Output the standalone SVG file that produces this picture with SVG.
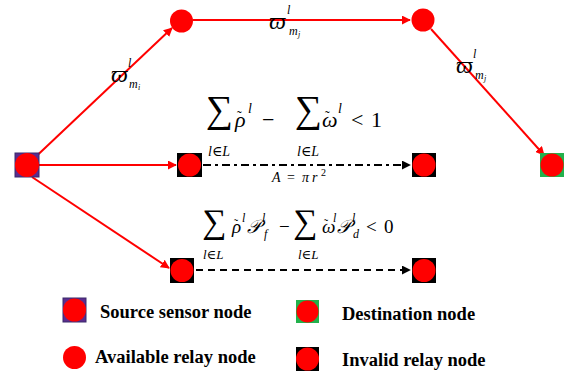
<svg xmlns="http://www.w3.org/2000/svg" width="567" height="374" viewBox="0 0 567 374">
<style>
.red{stroke:#ff0000;stroke-width:2;fill:none}
.blk{stroke:#000;stroke-width:2;fill:none}
.dot{fill:#ff0000}
</style>
<defs>
<marker id="ar" viewBox="0 0 10 10" refX="9" refY="5" markerWidth="4.5" markerHeight="4.5" orient="auto" markerUnits="strokeWidth">
<path d="M0,0 L10,5 L0,10 z" fill="#ff0000"/>
</marker>
<marker id="ak" viewBox="0 0 10 10" refX="9" refY="5" markerWidth="4.5" markerHeight="4.5" orient="auto" markerUnits="strokeWidth">
<path d="M0,0 L10,5 L0,10 z" fill="#000"/>
</marker>
</defs>
<rect width="567" height="374" fill="#fff"/>
<g id="connectors">
<line class="red" x1="27" y1="165" x2="172" y2="28" marker-end="url(#ar)"/>
<line class="red" x1="39" y1="165" x2="176" y2="165" marker-end="url(#ar)"/>
<line class="red" x1="32" y1="177" x2="169" y2="268" marker-end="url(#ar)"/>
<line class="red" x1="193" y1="20" x2="410" y2="20" marker-end="url(#ar)"/>
<line class="red" x1="431" y1="29" x2="544" y2="155" marker-end="url(#ar)"/>
<line class="blk" x1="203" y1="165" x2="410" y2="165" stroke-dasharray="8,4,3,4" marker-end="url(#ak)"/>
<line class="blk" x1="196" y1="270" x2="410" y2="270" stroke-dasharray="7,5" marker-end="url(#ak)"/>
</g>
<g id="source">
<rect x="15" y="153" width="24" height="24" fill="#5b2d8e" stroke="#3a2a6a" stroke-width="1"/>
<circle class="dot" cx="27" cy="165" r="12"/>
</g>
<g id="relay1"><circle class="dot" cx="181.5" cy="21" r="11.5"/></g>
<g id="relay2"><circle class="dot" cx="423" cy="20" r="11.5"/></g>
<g id="destination">
<rect x="540" y="153" width="24" height="24" fill="#22b14c"/>
<circle class="dot" cx="552" cy="165" r="11.5"/>
</g>
<g id="invalid1">
<rect x="177" y="153" width="25" height="24" fill="#000"/>
<circle class="dot" cx="189.5" cy="165" r="11.5"/>
</g>
<g id="invalid2">
<rect x="412" y="153" width="24" height="24" fill="#000"/>
<circle class="dot" cx="424" cy="165" r="11.5"/>
</g>
<g id="invalid3">
<rect x="170" y="258" width="24" height="25" fill="#000"/>
<circle class="dot" cx="182" cy="270.5" r="11.5"/>
</g>
<g id="invalid4">
<rect x="412" y="258" width="24" height="25" fill="#000"/>
<circle class="dot" cx="424" cy="270.5" r="11.5"/>
</g>
<g id="labels" font-family="Liberation Serif, Times New Roman, DejaVu Serif, serif" font-style="italic" fill="#000">
<text x="111" y="82" font-size="24">ϖ</text>
<text x="128" y="67" font-size="12">l</text>
<text x="129" y="88" font-size="12">m</text>
<text x="138" y="90" font-size="8">i</text>
<text x="269" y="29" font-size="24">ϖ</text>
<text x="287" y="14" font-size="12">l</text>
<text x="289" y="35" font-size="12">m</text>
<text x="298" y="37" font-size="8">j</text>
<text x="456" y="73" font-size="24">ϖ</text>
<text x="473" y="58" font-size="12">l</text>
<text x="475" y="79" font-size="12">m</text>
<text x="484" y="81" font-size="8">j</text>
</g>
<g id="formula1" font-family="Liberation Serif, Times New Roman, DejaVu Serif, serif" fill="#000">
<text x="206" y="122" font-size="38">∑</text>
<text x="235" y="127" font-size="22" font-style="italic">ρ</text>
<text x="237" y="121" font-size="14">˜</text>
<text x="248" y="113" font-size="14" font-style="italic">l</text>
<text x="262" y="127" font-size="22">−</text>
<text x="295" y="122" font-size="38">∑</text>
<text x="322" y="127" font-size="22" font-style="italic">ω</text>
<text x="325" y="121" font-size="14">˜</text>
<text x="338" y="113" font-size="14" font-style="italic">l</text>
<text x="351" y="127" font-size="22">&lt;</text>
<text x="371" y="127" font-size="22">1</text>
<text x="208" y="156" font-size="14"><tspan font-style="italic">l</tspan>∈<tspan font-style="italic">L</tspan></text>
<text x="297" y="156" font-size="14"><tspan font-style="italic">l</tspan>∈<tspan font-style="italic">L</tspan></text>
<text x="272" y="182" font-size="14" font-style="italic">A</text>
<text x="287" y="182" font-size="14">=</text>
<text x="302" y="182" font-size="14" font-style="italic">π</text>
<text x="312" y="182" font-size="14" font-style="italic">r</text>
<text x="321" y="176" font-size="10">2</text>
</g>
<g id="formula2" font-family="Liberation Serif, Times New Roman, DejaVu Serif, serif" fill="#000">
<text x="202" y="233" font-size="34">∑</text>
<text x="232" y="233" font-size="19" font-style="italic">ρ</text>
<text x="234" y="228" font-size="12">˜</text>
<text x="242" y="222" font-size="12" font-style="italic">l</text>
<text x="247" y="233" font-size="19" font-style="italic">𝒫</text>
<text x="262" y="222" font-size="12" font-style="italic">l</text>
<text x="264" y="238" font-size="12" font-style="italic">f</text>
<text x="279" y="233" font-size="19">−</text>
<text x="293" y="233" font-size="34">∑</text>
<text x="322" y="233" font-size="19" font-style="italic">ω</text>
<text x="324" y="228" font-size="12">˜</text>
<text x="333" y="222" font-size="12" font-style="italic">l</text>
<text x="337" y="233" font-size="19" font-style="italic">𝒫</text>
<text x="352" y="222" font-size="12" font-style="italic">l</text>
<text x="353" y="238" font-size="12" font-style="italic">d</text>
<text x="366" y="233" font-size="19">&lt;</text>
<text x="384" y="233" font-size="19">0</text>
<text x="203" y="259" font-size="13"><tspan font-style="italic">l</tspan>∈<tspan font-style="italic">L</tspan></text>
<text x="298" y="259" font-size="13"><tspan font-style="italic">l</tspan>∈<tspan font-style="italic">L</tspan></text>
</g>
<g id="legend">
<rect x="63" y="298" width="23" height="24" fill="#5b2d8e" stroke="#3a2a6a" stroke-width="1"/>
<circle class="dot" cx="74.5" cy="310" r="11.5"/>
<rect x="296" y="300" width="23" height="23" fill="#22b14c"/>
<circle class="dot" cx="307.5" cy="311.5" r="11"/>
<circle class="dot" cx="74.5" cy="357.5" r="11.5"/>
<rect x="296" y="347" width="23" height="24" fill="#000"/>
<circle class="dot" cx="307.5" cy="359" r="11.5"/>
<g font-family="Liberation Serif, Times New Roman, DejaVu Serif, serif" font-weight="bold" font-size="18.5" fill="#000">
<text x="100" y="318">Source sensor node</text>
<text x="342" y="320">Destination node</text>
<text x="95" y="363">Available relay node</text>
<text x="342" y="366">Invalid relay node</text>
</g>
</g>
</svg>
